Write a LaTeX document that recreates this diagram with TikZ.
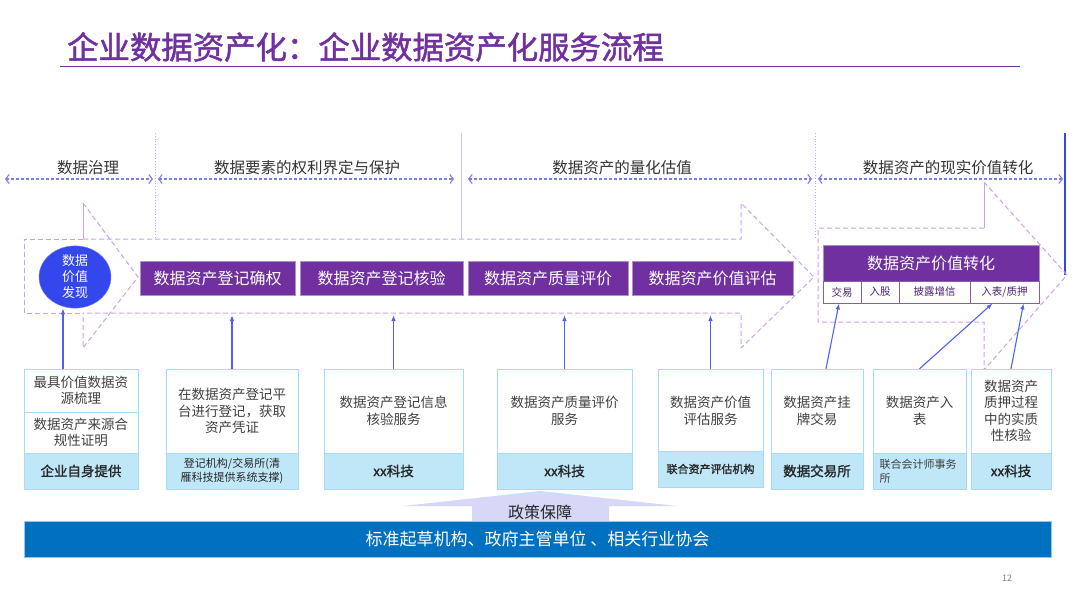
\documentclass[tikz,border=0pt]{standalone}
\usepackage{fontspec}
\setmainfont{Noto Sans CJK SC}[AutoFakeBold=1.5]
\usetikzlibrary{arrows.meta,shapes.geometric}
\definecolor{deeppurple}{HTML}{7030A0}
\definecolor{dashpurple}{HTML}{C9A3E8}
\definecolor{spanblue}{HTML}{7A7FEE}
\definecolor{linkblue}{HTML}{4F60F2}
\definecolor{discblue}{HTML}{3447EC}
\definecolor{edgecyan}{HTML}{A6DCF3}
\definecolor{bandcyan}{HTML}{BFE7F8}
\definecolor{barblue}{HTML}{0070C0}
\definecolor{policylav}{HTML}{D7D7F8}
\definecolor{inktext}{HTML}{404040}
\newcommand{\fsz}[2]{\fontsize{#1}{#2}\selectfont}
\begin{document}
\begin{tikzpicture}[x=1pt,y=-1pt,
  phase/.style={text=black!80,font=\fsz{15.5}{18}},
  span/.style={spanblue,line width=1.1pt,dash pattern=on 3pt off 2pt,{Straight Barb[length=3.5pt,width=9pt]}-{Straight Barb[length=3.5pt,width=9pt]}},
  flowdash/.style={dashpurple,line width=1pt,dash pattern=on 5pt off 3pt},
  flowline/.style={dashpurple,line width=1pt},
  stage/.style={fill=deeppurple,draw=deeppurple!55,text=white,font=\fsz{16}{18},minimum height=34pt,inner sep=0pt},
  cell/.style={fill=white,draw=deeppurple!80,line width=0.8pt,text=deeppurple!70!black,font=\fsz{10.5}{12},minimum height=22pt,inner sep=0pt},
  svc/.style={fill=white,draw=edgecyan,text=inktext,font=\fsz{13.5}{16.5},align=center,inner sep=0pt},
  org/.style={fill=bandcyan,draw=edgecyan,text=black!85,minimum height=36pt,inner sep=0pt,align=center},
  link/.style={linkblue,line width=1.1pt,-{Latex[length=6pt,width=4.5pt]}},
]
\useasboundingbox (0,0) rectangle (1080,608);

\node[anchor=west,inner sep=0pt,text=deeppurple,font=\fsz{31.4}{34}\bfseries] (title) at (67,47) {企业数据资产化：企业数据资产化服务流程};
\draw[deeppurple,line width=0.8pt] (60,66) -- (1020,66);

\draw[spanblue!60,dotted,line width=0.8pt] (155,133) -- (155,239);
\draw[spanblue!45,line width=0.6pt] (461,133) -- (461,239);
\draw[spanblue!60,dotted,line width=0.8pt] (815,133) -- (815,239);
\draw[discblue,line width=2.5pt] (1065,133) -- (1065,275);

\node[phase] (ph1) at (88,168) {数据治理};
\node[phase] (ph2) at (307,168) {数据要素的权利界定与保护};
\node[phase] (ph3) at (622,168) {数据资产的量化估值};
\node[phase] (ph4) at (948,168) {数据资产的现实价值转化};
\draw[span] (5,179) -- (153,179);
\draw[span] (158,179) -- (454,179);
\draw[span] (468,179) -- (812,179);
\draw[span] (818,179) -- (1063,179);

\draw[flowdash] (83,239) -- (24,239) -- (24,313) -- (83,313);
\draw[flowdash] (83,239) -- (741,239) -- (741,203) -- (814,277) -- (741,348) -- (741,313) -- (83,313);
\draw[flowline] (83,239) -- (83,203);
\draw[flowdash] (83,203) -- (138,277) -- (83,348) -- (83,313);
\draw[flowdash] (984,228) -- (818,228) -- (818,322) -- (984,322) -- (984,370) -- (1067,275) -- (984,182);
\draw[flowline] (984,182) -- (984,228);

\node[ellipse,fill=discblue,draw=discblue!70,minimum width=72pt,minimum height=62pt,inner sep=0pt,text=white,align=center,font=\fsz{13}{16}] (disc) at (75,277) {数据\\价值\\发现};
\node[stage,minimum width=155pt] (st1) at (217.5,278) {数据资产登记确权};
\node[stage,minimum width=163pt] (st2) at (381.5,278) {数据资产登记核验};
\node[stage,minimum width=160pt] (st3) at (548,278) {数据资产质量评价};
\node[stage,minimum width=161pt] (st4) at (712.5,278) {数据资产价值评估};
\node[stage,minimum width=216pt,minimum height=36pt] (conv) at (931,263) {数据资产价值转化};
\node[cell,minimum width=38pt] (c1) at (842,292) {交易};
\node[cell,minimum width=38pt] (c2) at (880,292) {入股};
\node[cell,minimum width=71pt] (c3) at (934.5,292) {披露增信};
\node[cell,minimum width=69pt] (c4) at (1004.5,292) {入表/质押};

\node[svc,minimum width=114pt,minimum height=43pt] (svc1) at (81,390.5) {最具价值数据资\\源梳理};
\node[svc,minimum width=114pt,minimum height=41pt] (svc1b) at (81,432.5) {数据资产来源合\\规性证明};
\node[org,minimum width=114pt,font=\fsz{13.5}{16}\bfseries] (org1) at (81,471) {企业自身提供};
\node[svc,minimum width=132pt,minimum height=84pt] (svc2) at (232,411) {在数据资产登记平\\台进行登记，获取\\资产凭证};
\node[org,minimum width=132pt,font=\fsz{11}{13.5}] (org2) at (232,471) {登记机构/交易所(清\\雁科技提供系统支撑)};
\node[svc,minimum width=139pt,minimum height=84pt] (svc3) at (393.5,411) {数据资产登记信息\\核验服务};
\node[org,minimum width=139pt,font=\fsz{13.5}{16}\bfseries] (org3) at (393.5,471) {xx科技};
\node[svc,minimum width=135pt,minimum height=84pt] (svc4) at (564.5,411) {数据资产质量评价\\服务};
\node[org,minimum width=135pt,font=\fsz{13.5}{16}\bfseries] (org4) at (564.5,471) {xx科技};
\node[svc,minimum width=105pt,minimum height=84pt] (svc5) at (710.5,411) {数据资产价值\\评估服务};
\node[org,minimum width=105pt,font=\fsz{11}{13}\bfseries] (org5) at (710.5,469) {联合资产评估机构};
\node[svc,minimum width=92pt,minimum height=84pt] (svc6) at (817,411) {数据资产挂\\牌交易};
\node[org,minimum width=92pt,font=\fsz{13.5}{16}\bfseries] (org6) at (817,471) {数据交易所};
\node[svc,minimum width=93pt,minimum height=84pt] (svc7) at (919.5,411) {数据资产入\\表};
\node[org,minimum width=93pt,text width=80pt,align=left,text=inktext,font=\fsz{11}{14}] (org7) at (919.5,471) {联合会计师事务\\所};
\node[svc,minimum width=80pt,minimum height=84pt] (svc8) at (1011,411) {数据资产\\质押过程\\中的实质\\性核验};
\node[org,minimum width=80pt,font=\fsz{13.5}{16}\bfseries] (org8) at (1011,471) {xx科技};

\coordinate (flowbase) at (0,315);
\draw[link] ([xshift=-18pt]svc1.north) -- ([xshift=-18pt]svc1.north |- disc.south);
\draw[link] (svc2.north) -- (svc2.north |- flowbase);
\draw[link] (svc3.north) -- (svc3.north |- flowbase);
\draw[link] (svc4.north) -- (svc4.north |- flowbase);
\draw[link] (svc5.north) -- (svc5.north |- flowbase);
\draw[link] ([xshift=9pt]svc6.north) -- ([xshift=-3pt]c1.south);
\draw[link] (svc7.north) -- ([xshift=-12pt]c4.south);
\draw[link] (svc8.north) -- ([xshift=19pt]c4.south);

\fill[policylav] (540,491) -- (677,506) -- (609,506) -- (609,521) -- (472,521) -- (472,506) -- (403,506) -- cycle;
\node[font=\fsz{16}{18},text=black!85] (policy) at (540,512) {政策保障};
\node[fill=barblue,draw=barblue!40,minimum width=1027pt,minimum height=36pt,inner sep=0pt,text=white,font=\fsz{17}{20}] (bar) at (537.5,539) {标准起草机构、政府主管单位 、相关行业协会};
\node[text=black!50,font=\fsz{9}{10}] (pageno) at (1007,578) {12};
\end{tikzpicture}
\end{document}
